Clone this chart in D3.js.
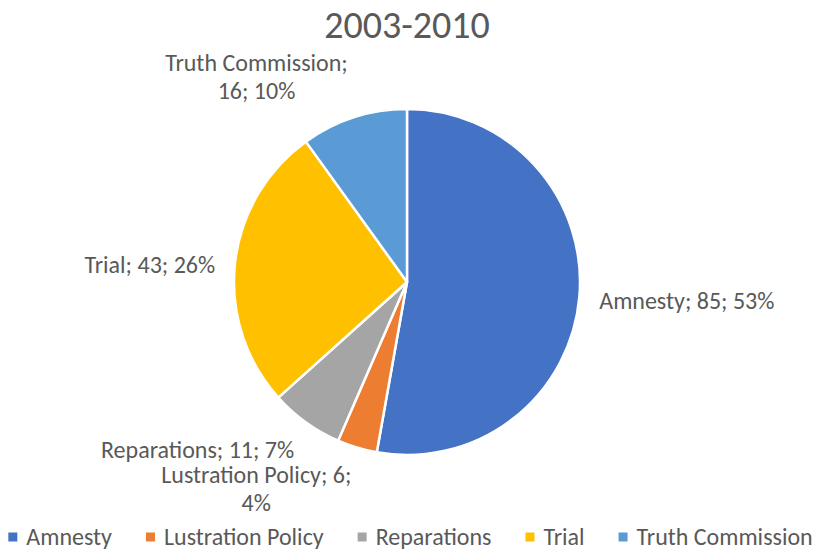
<!DOCTYPE html>
<html>
<head>
<meta charset="utf-8">
<script src="https://cdn.jsdelivr.net/npm/d3@7"></script>
<style>
  body { margin: 0; background: #fff; }
  svg text { font-family: Calibri, Carlito, "Open Sans", sans-serif; fill: #595959; }
</style>
</head>
<body>
<svg id="chart"></svg>
<script>
// data
var categories = ["Amnesty", "Lustration Policy", "Reparations", "Trial", "Truth Commission"];
var values = [85, 6, 11, 43, 16];
var percents = ["53%", "4%", "7%", "26%", "10%"];
var colors = ["#4472C4", "#ED7D31", "#A5A5A5", "#FFC000", "#5B9BD5"];
var chartTitle = "2003-2010";
// label text per slice, already wrapped the way the chart shows it
var labelLines = [
    ["Amnesty; 85; 53%"],
    ["Lustration Policy; 6;", "4%"],
    ["Reparations; 11; 7%"],
    ["Trial; 43; 26%"],
    ["Truth Commission;", "16; 10%"]
];

const width = 817;
const height = 550;
const cx = 407, cy = 282, radius = 173;
const labelFont = 24;
const lineHeight = 28;

var svg = d3.select("#chart")
    .attr("width", width)
    .attr("height", height)
    .attr("viewBox", [0, 0, width, height]);

// title
svg.append("text")
    .attr("x", 407)
    .attr("y", 38)
    .attr("text-anchor", "middle")
    .style("font-size", "38px")
    .text(chartTitle);

var pie = d3.pie().sort(null).value(d => d.value);
var arc = d3.arc().innerRadius(0).outerRadius(radius);
var data = pie(categories.map((c, i) => ({ name: c, value: values[i], i: i })));

var g = svg.append("g").attr("transform", `translate(${cx},${cy})`);

g.selectAll("path")
    .data(data)
    .join("path")
    .attr("d", arc)
    .attr("fill", d => colors[d.data.i])
    .attr("stroke", "#fff")
    .attr("stroke-width", 2.5)
    .attr("stroke-linejoin", "round");

// data labels: a block of centered lines placed just outside the slice
var labelR = radius + 20;
data.forEach(function(d) {
    var a = (d.startAngle + d.endAngle) / 2;
    var px = labelR * Math.sin(a), py = -labelR * Math.cos(a);
    var lines = labelLines[d.data.i];
    var t = g.append("text")
        .attr("text-anchor", "middle")
        .style("font-size", labelFont + "px");
    var spans = t.selectAll("tspan").data(lines).join("tspan").text(l => l);
    var w = d3.max(spans.nodes(), n => n.getComputedTextLength());
    var h = lines.length * lineHeight;
    var bx = px + Math.sign(Math.sin(a)) * w / 2;
    var by = py - Math.cos(a) * (h / 2 - 5 * (lines.length - 1));
    if (Math.sin(a) < -0.9) by += 5;
    spans.attr("x", bx)
        .attr("y", (l, k) => by - h / 2 + lineHeight * (k + 0.5))
        .attr("dy", "0.35em");
});

// legend along the bottom, centered
var legend = svg.append("g");
var x = 0;
categories.forEach(function(c, i) {
    var item = legend.append("g").attr("transform", `translate(${x},0)`);
    item.append("rect")
        .attr("x", 0).attr("y", -4.5)
        .attr("width", 9).attr("height", 9)
        .attr("fill", colors[i]);
    var t = item.append("text")
        .attr("x", 18).attr("dy", "0.35em")
        .style("font-size", labelFont + "px")
        .text(c);
    x += 18 + t.node().getComputedTextLength() + 34;
});
var legendW = x - 34;
legend.attr("transform", `translate(${(width - legendW) / 2 + 2},537)`);
</script>
</body>
</html>
